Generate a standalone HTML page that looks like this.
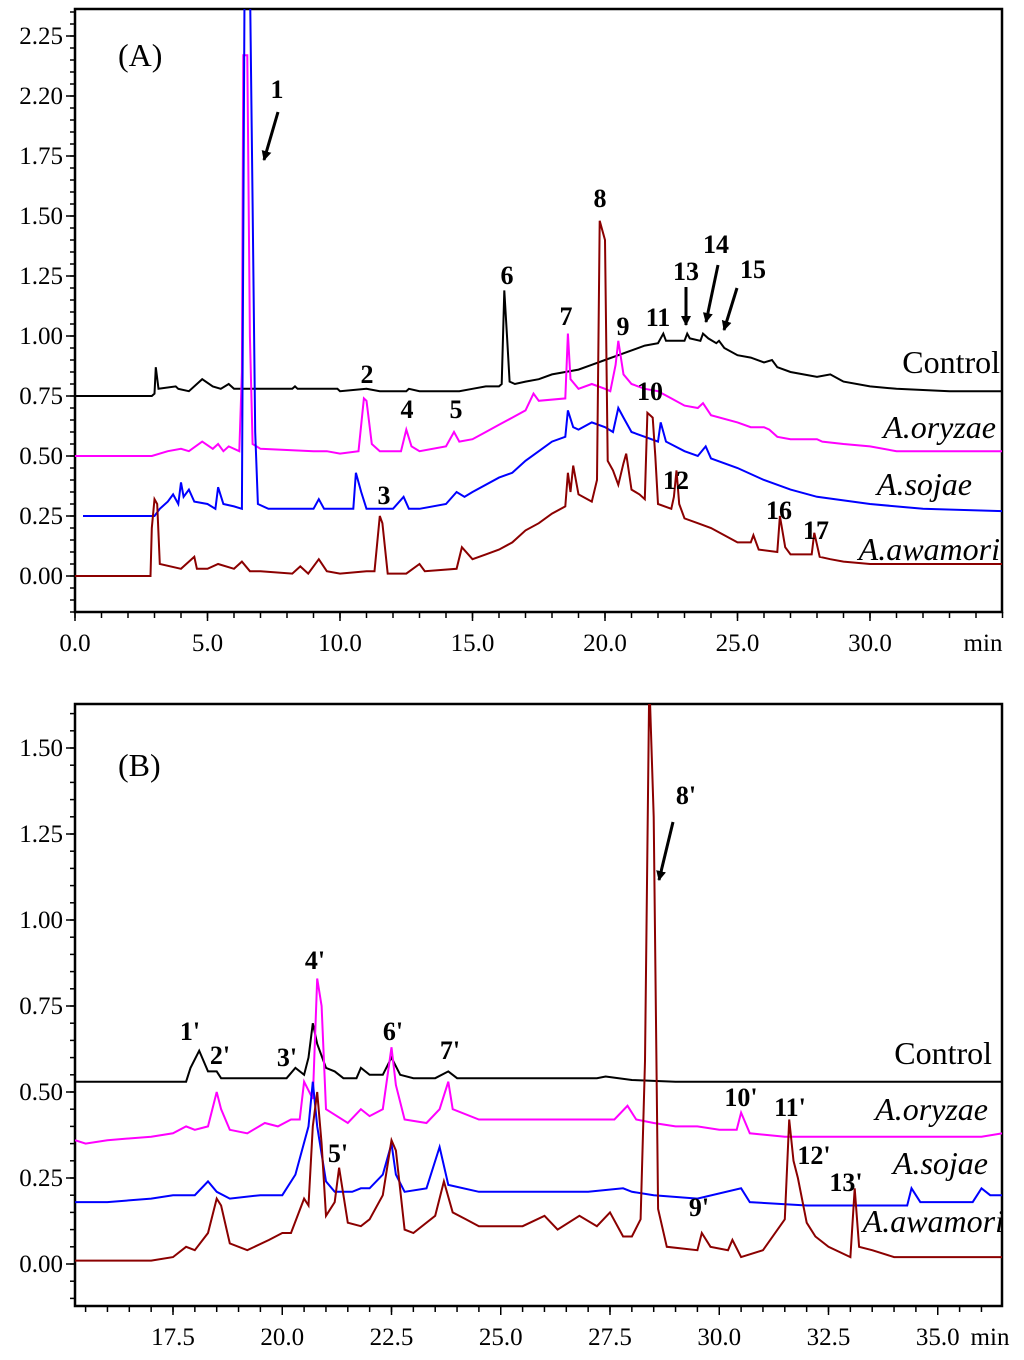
<!DOCTYPE html>
<html><head><meta charset="utf-8">
<style>
html,body{margin:0;padding:0;background:#fff;}
svg{display:block;font-family:"Liberation Serif",serif;}
.tick{font-size:25px;fill:#000;}
.pk{font-size:25px;font-weight:bold;fill:#000;}
.ser{font-size:31px;fill:#000;}
.it{font-style:italic;}
</style></head>
<body>
<svg id="chart" width="1024" height="1360" viewBox="0 0 1024 1360">
<defs>
<clipPath id="clipA"><rect x="75" y="9" width="927" height="603"/></clipPath>
<clipPath id="clipB"><rect x="75" y="704" width="927" height="602"/></clipPath>
</defs>
<g id="panelA"></g>
<g id="panelB"></g>
</svg>
<script>
// ---------- Panel A data (time min, absorbance) ----------
const yTicksA = [0, 0.25, 0.5, 0.75, 1.0, 1.25, 1.5, 1.75, 2.0, 2.25];
const yTickLabelsA = ["0.00","0.25","0.50","0.75","1.00","1.25","1.50","1.75","2.20","2.25"];
const xTicksA = [0, 5, 10, 15, 20, 25, 30];
const xTickLabelsA = ["0.0","5.0","10.0","15.0","20.0","25.0","30.0"];
const controlA = [[0,0.75],[2.9,0.75],[3.0,0.76],[3.05,0.87],[3.15,0.78],[3.8,0.79],[3.9,0.78],[4.3,0.77],[4.8,0.82],[5.2,0.79],[5.5,0.78],[5.8,0.80],[6.0,0.78],[8.2,0.78],[8.3,0.79],[8.4,0.78],[9.9,0.78],[10.0,0.77],[11.0,0.78],[11.5,0.77],[12.5,0.77],[12.6,0.78],[13.0,0.77],[14.5,0.77],[15.0,0.78],[15.5,0.79],[16.0,0.79],[16.1,0.80],[16.2,1.19],[16.3,1.00],[16.4,0.81],[16.6,0.80],[17.0,0.81],[17.5,0.82],[18.0,0.84],[18.5,0.85],[19.0,0.86],[19.5,0.88],[20.0,0.90],[20.5,0.92],[21.0,0.94],[21.5,0.96],[22.0,0.97],[22.2,1.01],[22.3,0.98],[23.0,0.98],[23.1,1.01],[23.2,0.99],[23.6,0.98],[23.7,1.01],[23.9,0.99],[24.2,0.97],[24.3,0.98],[24.5,0.95],[25,0.92],[25.5,0.91],[26.0,0.89],[26.3,0.90],[26.5,0.87],[27,0.85],[28,0.83],[28.5,0.84],[29,0.81],[30,0.79],[31,0.78],[33,0.77],[35,0.77]];
const oryzaeA = [[0,0.5],[2.9,0.5],[3.5,0.52],[4.0,0.53],[4.3,0.52],[4.8,0.56],[5.2,0.53],[5.4,0.55],[5.6,0.52],[5.8,0.54],[6.2,0.52],[6.3,0.85],[6.35,2.17],[6.5,2.17],[6.6,1.0],[6.7,0.55],[7.0,0.53],[9.0,0.52],[9.5,0.52],[10,0.51],[10.7,0.52],[10.9,0.74],[11.0,0.73],[11.2,0.55],[11.5,0.52],[12.3,0.52],[12.5,0.61],[12.7,0.54],[13.0,0.52],[14.0,0.54],[14.3,0.60],[14.5,0.56],[15,0.57],[15.5,0.60],[16,0.63],[16.5,0.66],[17,0.69],[17.3,0.76],[17.5,0.73],[18.5,0.74],[18.6,1.01],[18.7,0.82],[19.0,0.78],[19.5,0.80],[20.0,0.78],[20.2,0.77],[20.4,0.88],[20.5,0.98],[20.7,0.84],[21,0.80],[21.5,0.78],[22,0.77],[22.5,0.74],[23,0.71],[23.5,0.70],[23.7,0.72],[24,0.67],[25,0.64],[25.5,0.62],[26,0.62],[26.2,0.61],[26.5,0.58],[27,0.57],[28,0.57],[28.2,0.56],[29,0.55],[30,0.54],[31,0.52],[35,0.52]];
const sojaeA = [[0.3,0.25],[3.0,0.25],[3.2,0.28],[3.5,0.31],[3.7,0.34],[3.9,0.30],[4.0,0.39],[4.1,0.33],[4.3,0.36],[4.5,0.31],[5.0,0.30],[5.3,0.28],[5.4,0.37],[5.6,0.30],[6.0,0.29],[6.3,0.28],[6.4,2.5],[6.6,2.5],[6.7,1.55],[6.8,0.6],[6.9,0.30],[7.3,0.28],[8,0.28],[9,0.28],[9.2,0.32],[9.4,0.28],[10.5,0.28],[10.6,0.43],[10.8,0.35],[11.0,0.28],[12.0,0.28],[12.4,0.33],[12.6,0.28],[13,0.28],[14,0.30],[14.4,0.35],[14.7,0.33],[15,0.35],[16,0.41],[16.5,0.43],[17,0.48],[17.5,0.52],[18.0,0.56],[18.5,0.58],[18.6,0.69],[18.8,0.62],[19.0,0.61],[19.5,0.64],[20.0,0.62],[20.3,0.60],[20.5,0.70],[20.7,0.66],[21,0.60],[21.5,0.58],[22,0.56],[22.1,0.64],[22.3,0.56],[23,0.52],[23.5,0.50],[23.8,0.54],[24,0.49],[25,0.45],[26,0.40],[27,0.36],[28,0.33],[30,0.30],[32,0.28],[35,0.27]];
const awamoriA = [[0,0],[2.85,0],[2.9,0.2],[3.0,0.32],[3.1,0.30],[3.2,0.05],[4,0.03],[4.5,0.08],[4.6,0.03],[5,0.03],[5.4,0.05],[6,0.03],[6.3,0.06],[6.6,0.02],[7,0.02],[8.2,0.01],[8.5,0.04],[8.8,0.01],[9.2,0.07],[9.5,0.02],[10,0.01],[11,0.02],[11.3,0.02],[11.5,0.25],[11.6,0.22],[11.8,0.01],[12.5,0.01],[13.0,0.05],[13.2,0.02],[14.4,0.03],[14.6,0.12],[15,0.07],[15.5,0.09],[16,0.11],[16.5,0.14],[17,0.19],[17.5,0.22],[18.0,0.26],[18.5,0.29],[18.6,0.43],[18.7,0.35],[18.8,0.46],[19.0,0.34],[19.5,0.31],[19.7,0.40],[19.8,1.48],[20.0,1.40],[20.1,0.48],[20.3,0.44],[20.5,0.38],[20.7,0.47],[20.8,0.51],[21.0,0.36],[21.3,0.34],[21.5,0.32],[21.6,0.68],[21.8,0.66],[21.9,0.50],[22,0.30],[22.5,0.28],[22.6,0.33],[22.7,0.44],[22.8,0.30],[23,0.24],[23.5,0.22],[24,0.20],[25,0.14],[25.5,0.14],[25.6,0.17],[25.8,0.11],[26.5,0.10],[26.6,0.25],[26.8,0.12],[27,0.09],[27.8,0.09],[27.9,0.18],[28.1,0.08],[28.5,0.07],[29,0.06],[30,0.05],[35,0.05]];

// ---------- Panel B data ----------
const yTicksB = [0, 0.25, 0.5, 0.75, 1.0, 1.25, 1.5];
const yTickLabelsB = ["0.00","0.25","0.50","0.75","1.00","1.25","1.50"];
const xTicksB = [17.5, 20, 22.5, 25, 27.5, 30, 32.5, 35];
const xTickLabelsB = ["17.5","20.0","22.5","25.0","27.5","30.0","32.5","35.0"];
const controlB = [[15.26,0.53],[17.8,0.53],[17.9,0.57],[18.1,0.62],[18.3,0.56],[18.5,0.56],[18.6,0.54],[20.1,0.54],[20.3,0.57],[20.5,0.55],[20.6,0.60],[20.7,0.70],[20.8,0.64],[21.0,0.57],[21.2,0.56],[21.4,0.54],[21.7,0.54],[21.8,0.57],[22.0,0.55],[22.3,0.55],[22.5,0.60],[22.7,0.55],[23.0,0.54],[23.5,0.54],[23.8,0.56],[24.0,0.54],[27.2,0.54],[27.4,0.545],[28,0.535],[29,0.53],[36.47,0.53]];
const oryzaeB = [[15.26,0.36],[15.5,0.35],[16,0.36],[17,0.37],[17.5,0.38],[17.8,0.40],[18.0,0.39],[18.3,0.40],[18.5,0.50],[18.6,0.45],[18.8,0.39],[19.2,0.38],[19.6,0.41],[19.9,0.40],[20.2,0.42],[20.4,0.42],[20.5,0.53],[20.7,0.48],[20.8,0.83],[20.9,0.75],[21.0,0.45],[21.5,0.41],[21.8,0.45],[22.0,0.43],[22.3,0.45],[22.5,0.63],[22.6,0.52],[22.8,0.42],[23.3,0.41],[23.6,0.45],[23.8,0.53],[23.9,0.45],[24.5,0.42],[26,0.42],[27,0.42],[27.6,0.42],[27.9,0.46],[28.1,0.42],[28.5,0.41],[29,0.40],[29.5,0.40],[30,0.39],[30.4,0.39],[30.5,0.44],[30.7,0.38],[31.5,0.37],[33,0.37],[35,0.37],[36,0.37],[36.47,0.38]];
const sojaeB = [[15.26,0.18],[16,0.18],[17,0.19],[17.5,0.20],[18,0.20],[18.3,0.24],[18.5,0.21],[18.8,0.19],[19.5,0.20],[20.0,0.20],[20.3,0.26],[20.6,0.40],[20.7,0.53],[20.8,0.40],[21.0,0.24],[21.2,0.21],[21.6,0.21],[21.8,0.22],[22.0,0.22],[22.3,0.26],[22.5,0.35],[22.6,0.26],[22.8,0.21],[23.3,0.22],[23.6,0.34],[23.8,0.23],[24.5,0.21],[27,0.21],[27.8,0.22],[28,0.21],[28.5,0.20],[29.5,0.19],[30.5,0.22],[30.7,0.18],[32,0.17],[33.5,0.17],[34.3,0.17],[34.4,0.22],[34.6,0.18],[35.8,0.18],[36,0.22],[36.2,0.20],[36.47,0.20]];
const awamoriB = [[15.26,0.01],[16,0.01],[17,0.01],[17.5,0.02],[17.8,0.05],[18.0,0.04],[18.3,0.09],[18.5,0.19],[18.6,0.17],[18.8,0.06],[19.2,0.04],[19.7,0.07],[20,0.09],[20.2,0.09],[20.5,0.19],[20.6,0.17],[20.7,0.40],[20.8,0.50],[20.9,0.35],[21.0,0.14],[21.2,0.18],[21.3,0.28],[21.5,0.12],[21.8,0.11],[22.0,0.13],[22.3,0.20],[22.5,0.36],[22.6,0.33],[22.8,0.10],[23.0,0.09],[23.5,0.14],[23.7,0.24],[23.9,0.15],[24.2,0.13],[24.5,0.11],[25,0.11],[25.5,0.11],[26.0,0.14],[26.3,0.10],[26.8,0.14],[27.2,0.11],[27.5,0.15],[27.8,0.08],[28.0,0.08],[28.2,0.13],[28.3,0.59],[28.4,1.70],[28.5,1.30],[28.6,0.16],[28.8,0.05],[29.5,0.04],[29.6,0.09],[29.8,0.05],[30.2,0.04],[30.3,0.07],[30.5,0.02],[31,0.04],[31.5,0.13],[31.6,0.42],[31.7,0.30],[31.8,0.25],[32.0,0.12],[32.2,0.08],[32.5,0.05],[33.0,0.02],[33.1,0.22],[33.2,0.05],[33.5,0.04],[34,0.02],[35,0.02],[36.47,0.02]];

const NS = "http://www.w3.org/2000/svg";
function mk(tag, attrs, parent){const e=document.createElementNS(NS,tag);for(const k in attrs)e.setAttribute(k,attrs[k]);parent.appendChild(e);return e;}

function drawPanel(g, cfg){
  const X = t => cfg.x0 + (t - cfg.tmin) * cfg.pxPerX;
  const Y = v => cfg.y0 - v * cfg.pxPerY;
  const frame = mk('rect',{x:cfg.left,y:cfg.top,width:cfg.right-cfg.left,height:cfg.bottom-cfg.top,fill:'none',stroke:'#000','stroke-width':2.5},g);
  
  
  const yAxis = mk('g',{},g);
  
  
  for(let v=cfg.yMinTick; v<=cfg.yMaxTick+1e-9; v+=0.05){
    const y=Y(v); if(y<cfg.top||y>cfg.bottom) continue;
    mk('line',{x1:cfg.left-5,x2:cfg.left,y1:y,y2:y,stroke:'#000','stroke-width':1.5},yAxis);
  }
  cfg.yTicks.forEach((v,i)=>{
    const y=Y(v);
    mk('line',{x1:cfg.left-9,x2:cfg.left,y1:y,y2:y,stroke:'#000','stroke-width':1.5},yAxis);
    const t=mk('text',{x:cfg.left-12,y:y+8,'text-anchor':'end',class:'tick'},yAxis);
    t.textContent=cfg.yLabels[i];
    
    
  });
  const xAxis = mk('g',{},g);
  
  
  for(let t=cfg.xMinorStart; t<=cfg.xMinorEnd+1e-9; t+=cfg.xMinorStep){
    const x=X(t); if(x<cfg.left-1||x>cfg.right+1) continue;
    mk('line',{x1:x,x2:x,y1:cfg.bottom,y2:cfg.bottom+6,stroke:'#000','stroke-width':1.5},xAxis);
  }
  cfg.xTicks.forEach((v,i)=>{
    const x=X(v);
    mk('line',{x1:x,x2:x,y1:cfg.bottom,y2:cfg.bottom+9,stroke:'#000','stroke-width':1.5},xAxis);
    const t=mk('text',{x:x,y:cfg.bottom+39,'text-anchor':'middle',class:'tick'},xAxis);
    t.textContent=cfg.xLabels[i];
    
    
  });
  const unit=mk('text',{x:cfg.unitX,y:cfg.bottom+39,'text-anchor':'middle',class:'tick'},xAxis);
  unit.textContent='min';
  
  
  const plot = mk('g',{'clip-path':cfg.clip},g);
  cfg.series.forEach(s=>{
    const pts=s.data.map(p=>X(p[0]).toFixed(1)+','+Y(p[1]).toFixed(1)).join(' ');
    const pl=mk('polyline',{points:pts,fill:'none',stroke:s.color,'stroke-width':2,'stroke-linejoin':'miter'},plot);
    
    
  });
}

drawPanel(document.getElementById('panelA'),{
  left:75,right:1002,top:9,bottom:612,x0:75,tmin:0,pxPerX:26.5,y0:576,pxPerY:240,
  yTicks:yTicksA,yLabels:yTickLabelsA,xTicks:xTicksA,xLabels:xTickLabelsA,
  yMinTick:-0.15,yMaxTick:2.35,xMinorStart:0,xMinorEnd:35,xMinorStep:1,unitX:983,clip:'url(#clipA)',
  series:[{data:controlA,color:'#000000',name:'control-trace-a'},{data:oryzaeA,color:'#ff00ff',name:'oryzae-trace-a'},{data:sojaeA,color:'#0000ff',name:'sojae-trace-a'},{data:awamoriA,color:'#8b0000',name:'awamori-trace-a'}]
});
drawPanel(document.getElementById('panelB'),{
  left:75,right:1002,top:704,bottom:1306,x0:173,tmin:17.5,pxPerX:43.7,y0:1264,pxPerY:344,
  yTicks:yTicksB,yLabels:yTickLabelsB,xTicks:xTicksB,xLabels:xTickLabelsB,
  yMinTick:-0.1,yMaxTick:1.6,xMinorStart:15.5,xMinorEnd:36.5,xMinorStep:0.5,unitX:990,clip:'url(#clipB)',
  series:[{data:controlB,color:'#000000',name:'control-trace-b'},{data:oryzaeB,color:'#ff00ff',name:'oryzae-trace-b'},{data:sojaeB,color:'#0000ff',name:'sojae-trace-b'},{data:awamoriB,color:'#8b0000',name:'awamori-trace-b'}]
});
</script>
<svg width="1024" height="1360" style="position:absolute;left:0;top:0">
<defs><marker id="arr" markerWidth="10" markerHeight="14" refX="9" refY="5" orient="auto" markerUnits="userSpaceOnUse" viewBox="0 0 10 10"><path d="M0,0 L10,5 L0,10 Z" fill="#000"/></marker></defs>
<text x="118" y="66" font-size="32" font-family="Liberation Serif, serif">(A)</text>
<text x="118" y="776" font-size="32" font-family="Liberation Serif, serif">(B)</text>
<g font-family="Liberation Serif, serif" font-size="26" font-weight="bold" text-anchor="middle">
<text x="277" y="98">1</text><text x="367" y="383">2</text><text x="384" y="504">3</text><text x="407" y="418">4</text><text x="456" y="418">5</text><text x="507" y="284">6</text><text x="566" y="325">7</text><text x="600" y="207">8</text><text x="623" y="335">9</text><text x="650" y="400">10</text><text x="658" y="326">11</text><text x="676" y="489">12</text><text x="686" y="280">13</text><text x="716" y="253">14</text><text x="753" y="278">15</text><text x="779" y="519">16</text><text x="816" y="539">17</text>
</g>
<g stroke="#000" stroke-width="3" marker-end="url(#arr)">
<line x1="278" y1="112" x2="264" y2="160"/><line x1="686" y1="287" x2="686" y2="325"/><line x1="718" y1="265" x2="706" y2="322"/><line x1="737" y1="288" x2="724" y2="330"/><line x1="673" y1="822" x2="659" y2="880"/>
</g>
<g font-family="Liberation Serif, serif" font-size="26" font-weight="bold" text-anchor="middle">
<text x="190" y="1040">1'</text><text x="220" y="1064">2'</text><text x="287" y="1066">3'</text><text x="315" y="969">4'</text><text x="338" y="1162">5'</text><text x="393" y="1040">6'</text><text x="450" y="1059">7'</text><text x="686" y="804">8'</text><text x="699" y="1216">9'</text><text x="741" y="1106">10'</text><text x="790" y="1116">11'</text><text x="814" y="1164">12'</text><text x="846" y="1191">13'</text>
</g>
<g font-family="Liberation Serif, serif" font-size="32" text-anchor="end">
<text x="1000" y="373">Control</text><text x="996" y="438" font-style="italic">A.oryzae</text><text x="972" y="495" font-style="italic">A.sojae</text><text x="1000" y="560" font-style="italic">A.awamori</text>
<text x="992" y="1064">Control</text><text x="988" y="1120" font-style="italic">A.oryzae</text><text x="988" y="1174" font-style="italic">A.sojae</text><text x="1004" y="1232" font-style="italic">A.awamori</text>
</g>
</svg>
</body></html>
